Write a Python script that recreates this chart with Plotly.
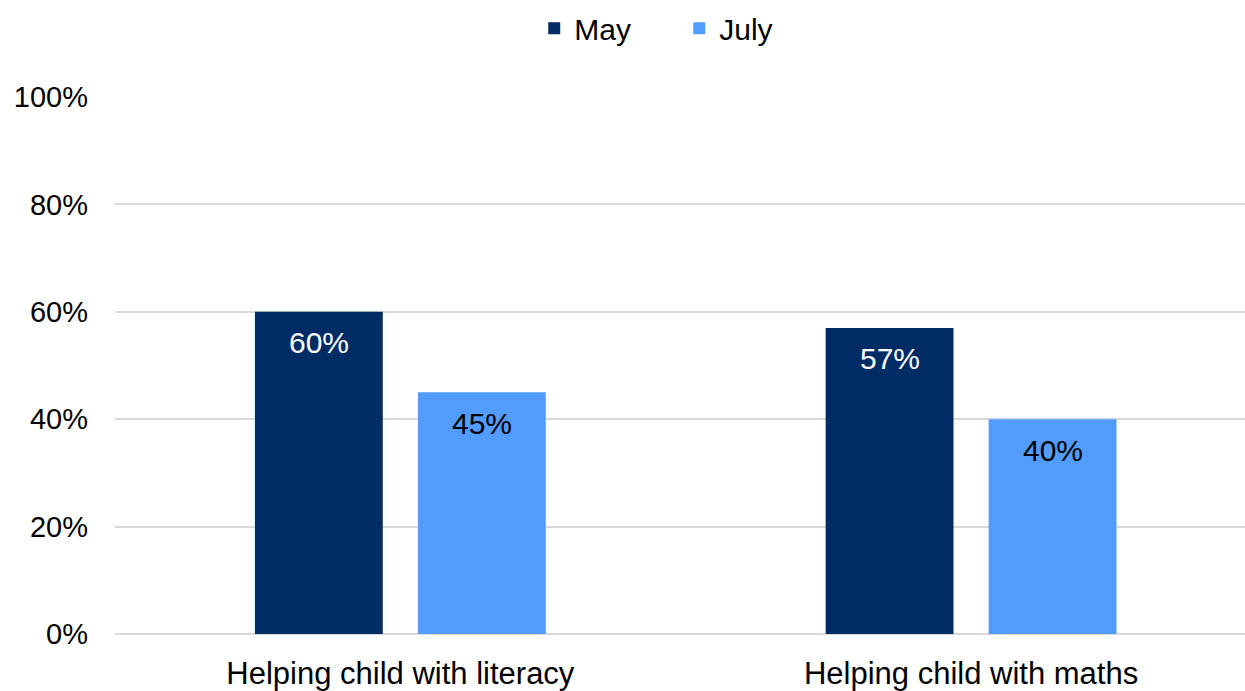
import plotly.graph_objects as go

categories = ["Helping child with literacy", "Helping child with maths"]
series_names = ["May", "July"]
may_values = [0.60, 0.57]
july_values = [0.45, 0.40]
y_tick_vals = [0, 0.2, 0.4, 0.6, 0.8, 1.0]
y_tick_labels = ["0%", "20%", "40%", "60%", "80%", "100%"]

colors = ["#002C66", "#529CFF"]
text_colors = ["white", "black"]
FONT = "Liberation Sans, Arial, sans-serif"

bar_width = 0.224
offsets = [-0.2548, 0.0308]

x_pos = list(range(len(categories)))
fig = go.Figure()
all_values = [may_values, july_values]
for name, vals, col, off in zip(series_names, all_values, colors, offsets):
    fig.add_trace(go.Bar(
        x=x_pos, y=vals, name=name, marker=dict(color=col, line=dict(width=0)),
        width=bar_width, offset=off,
    ))

annotations = []
for vals, off, tc in zip(all_values, offsets, text_colors):
    for xi, v in zip(x_pos, vals):
        annotations.append(dict(
            x=xi + off + bar_width / 2, y=v, xref="x", yref="y",
            text=f"{round(v*100)}%", showarrow=False, yshift=-31,
            font=dict(family=FONT, size=30, color=tc),
        ))

fig.update_layout(
    width=1245, height=691,
    margin=dict(l=115, r=0, t=97, b=54),
    paper_bgcolor="white", plot_bgcolor="white",
    barmode="overlay",
    font=dict(family=FONT, size=29, color="black"),
    showlegend=True,
    legend=dict(orientation="h", x=0.371, xanchor="left", y=1.128, yanchor="middle",
                yref="paper", font=dict(family=FONT, size=30), itemwidth=30,
                entrywidth=100, traceorder="normal"),
    annotations=annotations,
    xaxis=dict(range=[-0.5, 1.48], tickvals=x_pos, ticktext=categories,
               showgrid=False, zeroline=False, showline=False, ticks="",
               tickfont=dict(family=FONT, size=31, color="black"),
               ticklabelstandoff=18),
    yaxis=dict(range=[0, 1.0], tickvals=y_tick_vals, ticktext=y_tick_labels,
               showgrid=True, gridcolor="#D9D9D9", gridwidth=2,
               zeroline=True, zerolinecolor="#D9D9D9", zerolinewidth=2,
               showline=False, ticks="",
               tickfont=dict(family=FONT, size=29, color="black"),
               ticklabelstandoff=26),
)

fig.write_html("out.html", config={"displayModeBar": False},
               post_script="document.body.style.margin='0';")
